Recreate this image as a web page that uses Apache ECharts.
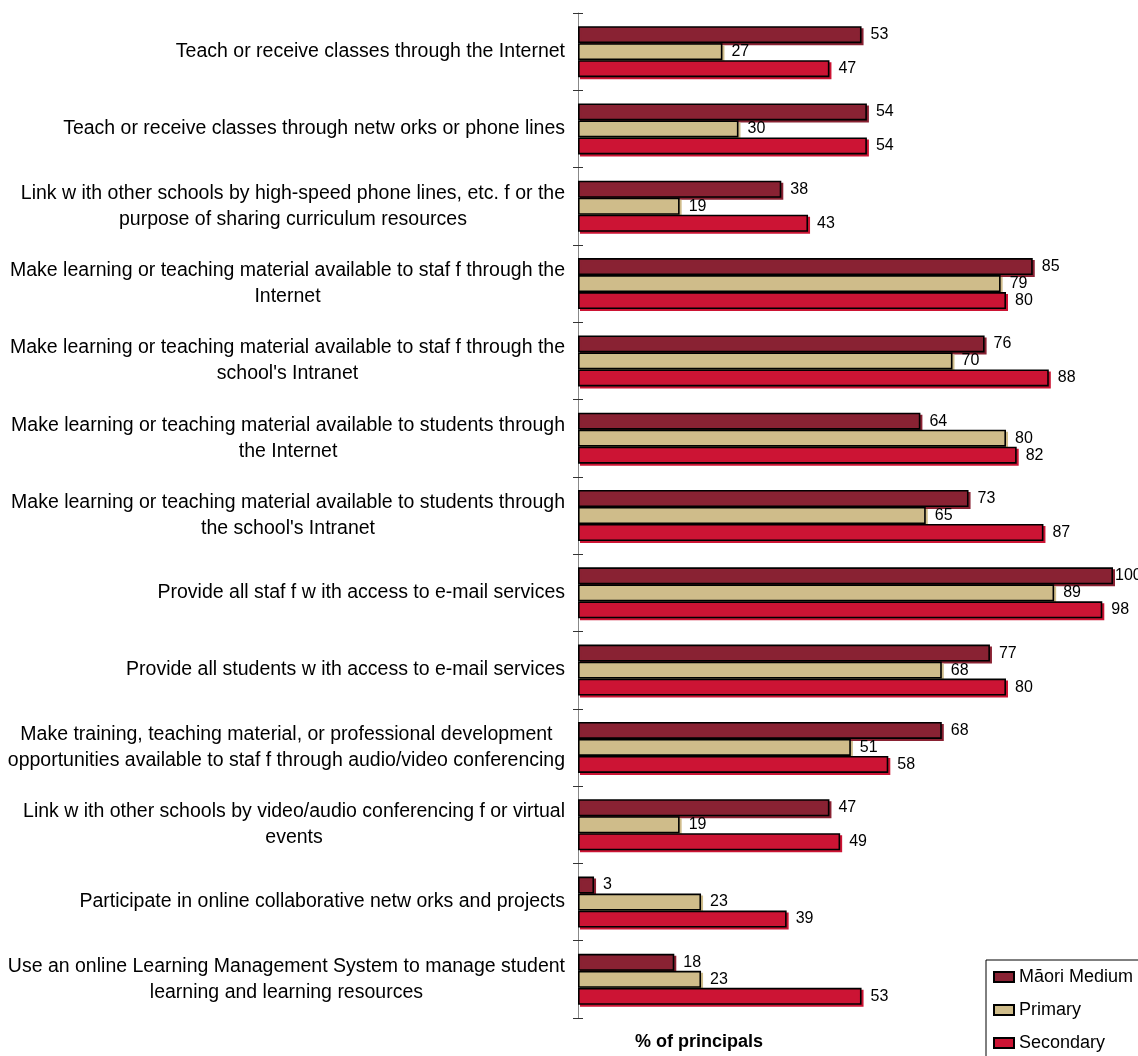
<!DOCTYPE html>
<html>
<head>
<meta charset="utf-8">
<script src="https://cdn.jsdelivr.net/npm/echarts@6/dist/echarts.min.js"></script>
<style>
  html, body { margin: 0; padding: 0; background: #fff; }
  #chart { width: 1138px; height: 1056px; }
</style>
</head>
<body>
<div id="chart"></div>
<script>
const categories = [
  "Teach or receive classes through the Internet",
  "Teach or receive classes through netw orks or phone lines",
  "Link w ith other schools by high-speed phone lines, etc. f or the\npurpose of sharing curriculum resources",
  "Make learning or teaching material available to staf f through the\nInternet",
  "Make learning or teaching material available to staf f through the\nschool's Intranet",
  "Make learning or teaching material available to students through\nthe Internet",
  "Make learning or teaching material available to students through\nthe school's Intranet",
  "Provide all staf f w ith access to e-mail services",
  "Provide all students w ith access to e-mail services",
  "Make training, teaching material, or professional development\nopportunities available to staf f through audio/video conferencing",
  "Link w ith other schools by video/audio conferencing f or virtual\nevents",
  "Participate in online collaborative netw orks and projects",
  "Use an online Learning Management System to manage student\nlearning and learning resources"
];
const seriesNames = ["Māori Medium", "Primary", "Secondary"];
const maoriMedium = [53, 54, 38, 85, 76, 64, 73, 100, 77, 68, 47, 3, 18];
const primary     = [27, 30, 19, 79, 70, 80, 65, 89, 68, 51, 19, 23, 23];
const secondary   = [47, 54, 43, 80, 88, 82, 87, 98, 80, 58, 49, 39, 53];
const xAxisTitle = "% of principals";

const colors = ["#892233", "#CFBC8A", "#CC1434"];
const FONT = "'Liberation Sans', Arial, Helvetica, sans-serif";
const X_MAX = 100;

function makeSeries(name, values, color) {
  // labels at the very end of the scale sit tight against the bar so they stay inside the page
  const data = values.map(function (v) {
    return v >= X_MAX ? { value: v, label: { distance: 2 } } : v;
  });
  return {
    name: name,
    type: 'bar',
    data: data,
    barWidth: 17,
    barGap: '0%',
    itemStyle: {
      color: color,
      borderColor: '#000',
      borderWidth: 1.6,
      shadowColor: color,
      shadowOffsetX: 2,
      shadowOffsetY: 2,
      shadowBlur: 0
    },
    label: {
      show: true,
      position: 'right',
      distance: 9,
      color: '#000',
      fontSize: 16,
      fontFamily: FONT
    },
    emphasis: { disabled: true }
  };
}

const chart = echarts.init(document.getElementById('chart'), null, { renderer: 'canvas' });
chart.setOption({
  animation: false,
  backgroundColor: '#fff',
  textStyle: { fontFamily: FONT },
  title: {
    text: xAxisTitle,
    left: 635,
    top: 1033,
    padding: 0,
    textStyle: { fontSize: 18, fontWeight: 'bold', color: '#000', fontFamily: FONT }
  },
  legend: {
    orient: 'vertical',
    left: 986,
    top: 960,
    height: 240,
    width: 220,
    padding: [8, 40, 12, 7],
    itemGap: 15,
    itemWidth: 20,
    itemHeight: 10,
    icon: 'rect',
    borderColor: '#000',
    borderWidth: 1,
    textStyle: { fontSize: 18, color: '#000', fontFamily: FONT },
    data: seriesNames
  },
  grid: { left: 578, top: 13, right: 25, bottom: 38, containLabel: false },
  xAxis: {
    type: 'value',
    min: 0,
    max: X_MAX,
    show: false
  },
  yAxis: [
    {
      type: 'category',
      data: categories,
      inverse: true,
      axisLine: { show: true, lineStyle: { color: '#888', width: 1 } },
      axisTick: { show: true, length: 5, lineStyle: { color: '#333' } },
      axisLabel: {
        margin: 13,
        fontSize: 19.5,
        color: '#000',
        fontFamily: FONT,
        lineHeight: 26,
        formatter: function (v) {
          return v.split('\n').map(function (l) { return '{c|' + l + '}'; }).join('\n');
        },
        rich: { c: { align: 'center', fontSize: 19.5, lineHeight: 26, color: '#000', fontFamily: FONT } }
      },
      splitLine: { show: false }
    },
    {
      type: 'category',
      data: categories,
      inverse: true,
      position: 'left',
      axisLine: { show: false },
      axisTick: { show: true, inside: true, length: 5, lineStyle: { color: '#333' } },
      axisLabel: { show: false },
      splitLine: { show: false }
    }
  ],
  series: [
    makeSeries(seriesNames[0], maoriMedium, colors[0]),
    makeSeries(seriesNames[1], primary, colors[1]),
    makeSeries(seriesNames[2], secondary, colors[2])
  ]
});
</script>
</body>
</html>
